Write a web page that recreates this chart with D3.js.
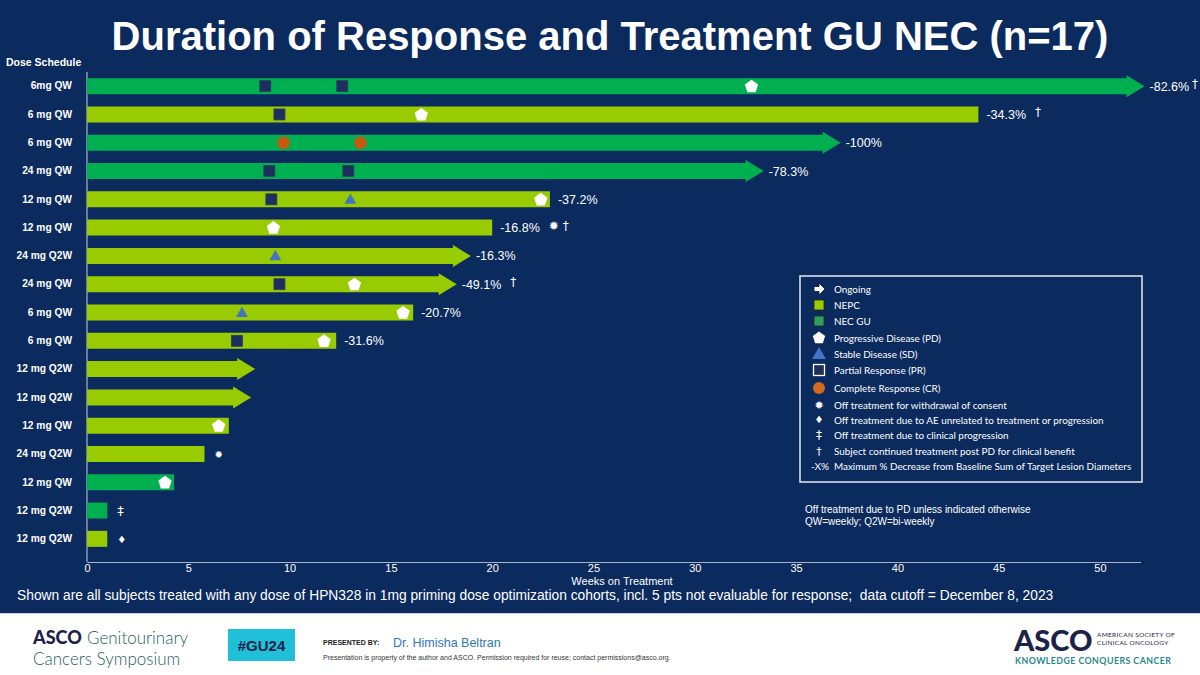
<!DOCTYPE html>
<html>
<head>
<meta charset="utf-8">
<script src="https://cdn.jsdelivr.net/npm/d3@7/dist/d3.min.js"></script>
<style>
html,body{margin:0;padding:0;background:#fff;}
svg{display:block;}
</style>
</head>
<body>
<svg id="chart" width="1200" height="675"></svg>
<script>
// ---------------- DATA ----------------
const doses = ["6mg QW","6 mg QW","6 mg QW","24 mg QW","12 mg QW","12 mg QW","24 mg Q2W","24 mg QW","6 mg QW","6 mg QW","12 mg Q2W","12 mg Q2W","12 mg QW","24 mg Q2W","12 mg QW","12 mg Q2W","12 mg Q2W"];
const tumorTypes = ["NEC GU","NEPC","NEC GU","NEC GU","NEPC","NEPC","NEPC","NEPC","NEPC","NEPC","NEPC","NEPC","NEPC","NEPC","NEC GU","NEC GU","NEPC"];
const weeksOnTreatment = [52.2,44.0,37.2,33.4,22.85,20.0,18.95,18.25,16.1,12.3,8.3,8.1,7.0,5.8,4.3,1.0,1.0];
const ongoing = [true,false,true,true,false,false,true,true,false,false,true,true,false,false,false,false,false];
const prWeeks = [[8.8,12.6],[9.5],[],[9.0,12.9],[9.1],[],[],[9.5],[],[7.4],[],[],[],[],[],[],[]];
const sdWeeks = [[],[],[],[],[13.0],[],[9.3],[],[7.65],[],[],[],[],[],[],[],[]];
const pdWeeks = [[32.8],[16.5],[],[],[22.4],[9.2],[],[13.2],[15.6],[11.7],[],[],[6.5],[],[3.85],[],[]];
const crWeeks = [[],[],[9.7,13.5],[],[],[],[],[],[],[],[],[],[],[],[],[],[]];
const maxDecrease = ["-82.6%","-34.3%","-100%","-78.3%","-37.2%","-16.8%","-16.3%","-49.1%","-20.7%","-31.6%","","","","","","",""];
const offSymbols = ["†","†","","","","✹ †","","†","","","","","","✹","","‡","♦"];
const xTicks = [0,5,10,15,20,25,30,35,40,45,50];
const legendItems = [
  {key:"arrow", text:"Ongoing"},
  {key:"nepc", text:"NEPC"},
  {key:"necgu", text:"NEC GU"},
  {key:"pd", text:"Progressive Disease (PD)"},
  {key:"sd", text:"Stable Disease (SD)"},
  {key:"pr", text:"Partial Response (PR)"},
  {key:"cr", text:"Complete Response (CR)"},
  {key:"star", text:"Off treatment for withdrawal of consent"},
  {key:"diamond", text:"Off treatment due to AE unrelated to treatment or progression"},
  {key:"ddagger", text:"Off treatment due to clinical progression"},
  {key:"dagger", text:"Subject continued treatment post PD for clinical benefit"},
  {key:"pct", text:"Maximum % Decrease from Baseline Sum of Target Lesion Diameters"}
];

// ---------------- STYLE ----------------
const NAVY = "#0b2a5e";
const C = {NEPC:"#99cc00", "NEC GU":"#00b050", pr:"#1d2f5c", sd:"#4472c4", cr:"#c55a11", pd:"#ffffff"};
const nf = "Liberation Sans, Arial, sans-serif";

const svg = d3.select("#chart");
svg.append("rect").attr("width",1200).attr("height",613).attr("fill",NAVY);
svg.append("rect").attr("y",613).attr("width",1200).attr("height",62).attr("fill","#ffffff");
svg.append("line").attr("x1",0).attr("x2",1200).attr("y1",613.5).attr("y2",613.5).attr("stroke","#c8ccd4");

// Title
svg.append("text").attr("x",610).attr("y",50).attr("text-anchor","middle")
  .attr("font-family",nf).attr("font-weight","bold")
  .attr("font-size",40).attr("fill","#fff")
  .text("Duration of Response and Treatment GU NEC (n=17)");

const x = d3.scaleLinear().domain([0,52]).range([87,1140.5]);
const y = d3.scaleBand().domain(d3.range(doses.length)).range([72,553]).paddingInner(0).paddingOuter(0);
const barH = 16, headH = 22, headL = 18;
const cy = i => y(i) + y.bandwidth()/2;

// axes
const xAxis = d3.axisBottom(x).tickValues(xTicks).tickSize(0).tickPadding(2);
const gx = svg.append("g").attr("transform","translate(0,562)").call(xAxis);
gx.select(".domain").attr("stroke","#a8b4cc").attr("stroke-width",1.2);
gx.selectAll("text").attr("fill","#fff").attr("font-size",11).attr("font-family",nf);
svg.append("line").attr("x1",87).attr("x2",87).attr("y1",72).attr("y2",562).attr("stroke","#a8b4cc").attr("stroke-width",1.2);

const yAxis = d3.axisLeft(y).tickFormat(i=>doses[i]).tickSize(0).tickPadding(15);
const gy = svg.append("g").attr("transform","translate(87,0)").call(yAxis);
gy.select(".domain").remove();
gy.selectAll("text").attr("fill","#fff").attr("font-size",10.2).attr("font-weight","bold").attr("font-family",nf);

svg.append("text").attr("x",6).attr("y",66).attr("fill","#fff").attr("font-size",10.5).attr("font-weight","bold")
  .attr("font-family",nf).text("Dose Schedule");
svg.append("text").attr("x",622).attr("y",585).attr("text-anchor","middle").attr("fill","#fff").attr("font-size",11)
  .attr("font-family",nf).text("Weeks on Treatment");

// bars
const idx = d3.range(doses.length);
function barPath(i){
  const x0 = x(0), x1 = x(weeksOnTreatment[i]), c = cy(i);
  if(!ongoing[i]){
    return `M${x0},${c-barH/2}H${x1}V${c+barH/2}H${x0}Z`;
  }
  const xs = x1 - headL;
  return `M${x0},${c-barH/2}H${xs}V${c-headH/2}L${x1},${c}L${xs},${c+headH/2}V${c+barH/2}H${x0}Z`;
}
svg.append("g").selectAll("path").data(idx).join("path")
  .attr("d",barPath).attr("fill",i=>C[tumorTypes[i]]);

// markers
const mk = svg.append("g");
function flat(arr){ const out=[]; arr.forEach((a,i)=>a.forEach(w=>out.push({i,w}))); return out; }
mk.selectAll(".pr").data(flat(prWeeks)).join("rect")
  .attr("x",d=>x(d.w)-5.5).attr("y",d=>cy(d.i)-5.5).attr("width",11).attr("height",11)
  .attr("fill",C.pr).attr("stroke","#2c3e66").attr("stroke-width",0.8);
mk.selectAll(".sd").data(flat(sdWeeks)).join("path")
  .attr("d",d3.symbol(d3.symbolTriangle,60)).attr("transform",d=>`translate(${x(d.w)},${cy(d.i)+1})`)
  .attr("fill",C.sd);
mk.selectAll(".cr").data(flat(crWeeks)).join("circle")
  .attr("cx",d=>x(d.w)).attr("cy",d=>cy(d.i)).attr("r",6.3).attr("fill",C.cr);
function pentagon(r){
  const pts = d3.range(5).map(k=>{const a = -Math.PI/2 + k*2*Math.PI/5; return [r*Math.cos(a), r*Math.sin(a)];});
  return "M"+pts.map(p=>p.join(",")).join("L")+"Z";
}
mk.selectAll(".pd").data(flat(pdWeeks)).join("path")
  .attr("d",pentagon(7)).attr("transform",d=>`translate(${x(d.w)},${cy(d.i)+0.5})`)
  .attr("fill",C.pd);

// labels
const lab = svg.append("g").attr("font-family",nf).attr("fill","#fff");
idx.forEach(i=>{
  const x0 = x(weeksOnTreatment[i]) + (ongoing[i]?5:8);
  if(maxDecrease[i]){
    const t = lab.append("text").attr("x",x0).attr("y",cy(i)+4.5).attr("font-size",12.5).text(maxDecrease[i]);
    if(offSymbols[i]){
      const end = x0 + t.node().getComputedTextLength();
      const s = lab.append("text").attr("y",cy(i)+2).attr("font-size",12).attr("font-family","DejaVu Sans, sans-serif").text(offSymbols[i]);
      const w = s.node().getComputedTextLength();
      const gap = Math.max(2, Math.min(9, 1198 - end - w));
      s.attr("x", end + gap);
    }
  } else if(offSymbols[i]){
    lab.append("text").attr("x",x0+2).attr("y",cy(i)+4).attr("font-size",offSymbols[i]==="‡"?13:10)
      .attr("font-family","DejaVu Sans, sans-serif").text(offSymbols[i]);
  }
});

// legend
const lg = svg.append("g").attr("transform","translate(800,276)");
lg.append("rect").attr("width",342).attr("height",206).attr("fill","none").attr("stroke","#e8ecf2").attr("stroke-width",1.5);
const ly = [13,29,45,62,78,94,112,129,144,159,175,190];
const lf = "Lato, 'Open Sans', sans-serif";
legendItems.forEach((d,k)=>{
  const g = lg.append("g").attr("transform",`translate(19,${ly[k]})`);
  switch(d.key){
    case "arrow": g.append("path").attr("d","M-5,-2.5H0V-6L6,0L0,6V2.5H-5Z").attr("fill","#fff").attr("stroke","#111").attr("stroke-width",0.8); break;
    case "nepc": g.append("rect").attr("x",-5).attr("y",-5).attr("width",10).attr("height",10).attr("fill",C.NEPC).attr("stroke","#222").attr("stroke-width",0.8); break;
    case "necgu": g.append("rect").attr("x",-5).attr("y",-5).attr("width",10).attr("height",10).attr("fill","#2f9e5e").attr("stroke","#222").attr("stroke-width",0.8); break;
    case "pd": g.append("path").attr("d",pentagon(6.5)).attr("fill","#fff"); break;
    case "sd": g.append("path").attr("d",d3.symbol(d3.symbolTriangle,85)).attr("transform","translate(0,1)").attr("fill",C.sd); break;
    case "pr": g.append("rect").attr("x",-5.5).attr("y",-5.5).attr("width",11).attr("height",11).attr("fill",C.pr).attr("stroke","#fff").attr("stroke-width",1.3); break;
    case "cr": g.append("circle").attr("r",6).attr("fill","#d2691e"); break;
    case "star": g.append("text").attr("text-anchor","middle").attr("y",4).attr("font-size",11).attr("fill","#fff").attr("font-family","DejaVu Sans").text("✹"); break;
    case "diamond": g.append("text").attr("text-anchor","middle").attr("y",3).attr("font-size",10).attr("fill","#fff").attr("font-family","DejaVu Sans").text("♦"); break;
    case "ddagger": g.append("text").attr("text-anchor","middle").attr("y",4).attr("font-size",12).attr("fill","#fff").attr("font-family","DejaVu Sans").text("‡"); break;
    case "dagger": g.append("text").attr("text-anchor","middle").attr("y",4).attr("font-size",11).attr("fill","#fff").attr("font-family","DejaVu Sans").text("†"); break;
    case "pct": g.append("text").attr("x",-8).attr("y",4).attr("font-size",10).attr("fill","#fff").attr("font-family",lf).text("-X%"); break;
  }
  lg.append("text").attr("x",34).attr("y",ly[k]+3.5).attr("font-size",9.9).attr("fill","#fff").attr("font-family",lf).text(d.text);
});

svg.append("text").attr("x",805).attr("y",513).attr("fill","#fff").attr("font-size",10).attr("font-family",nf).text("Off treatment due to PD unless indicated otherwise");
svg.append("text").attr("x",805).attr("y",525).attr("fill","#fff").attr("font-size",10).attr("font-family",nf).text("QW=weekly; Q2W=bi-weekly");

svg.append("text").attr("x",17).attr("y",600).attr("fill","#fff").attr("font-size",13.8).attr("font-family",nf)
  .attr("xml:space","preserve").style("white-space","pre")
  .text("Shown are all subjects treated with any dose of HPN328 in 1mg priming dose optimization cohorts, incl. 5 pts not evaluable for response;  data cutoff = December 8, 2023");

// footer
const ft = svg.append("g");
ft.append("text").attr("x",33).attr("y",644).attr("font-size",18).attr("font-weight","900").attr("font-family","Lato, sans-serif").attr("fill","#1b2346").text("ASCO");
ft.append("text").attr("x",87).attr("y",644).attr("font-size",17).attr("font-weight","300").attr("font-family","Lato, sans-serif").attr("fill","#245f5c").text("Genitourinary");
ft.append("text").attr("x",33).attr("y",665).attr("font-size",17).attr("font-weight","300").attr("font-family","Lato, sans-serif").attr("fill","#245f5c").text("Cancers Symposium");
ft.append("rect").attr("x",228).attr("y",629).attr("width",67).attr("height",32).attr("fill","#1fc0d8");
ft.append("text").attr("x",261.5).attr("y",651).attr("text-anchor","middle").attr("font-size",15).attr("font-weight","bold").attr("font-family",nf).attr("fill","#1b2346").text("#GU24");
ft.append("text").attr("x",323).attr("y",645).attr("font-size",7).attr("font-weight","bold").attr("font-family",nf).attr("fill","#222").text("PRESENTED BY:");
ft.append("text").attr("x",393).attr("y",647).attr("font-size",12.5).attr("font-family",nf).attr("fill","#2f78b8").text("Dr. Himisha Beltran");
ft.append("text").attr("x",323).attr("y",660).attr("font-size",7).attr("font-family",nf).attr("fill","#333").text("Presentation is property of the author and ASCO. Permission required for reuse; contact permissions@asco.org.");
ft.append("text").attr("x",1014).attr("y",651).attr("font-size",29).attr("font-weight","900").attr("font-family","Lato, sans-serif").attr("fill","#1b2346").text("ASCO");
ft.append("text").attr("x",1097).attr("y",637).attr("font-size",6.5).attr("font-family","Lato, sans-serif").attr("fill","#1b2346").attr("letter-spacing",0.3).text("AMERICAN SOCIETY OF");
ft.append("text").attr("x",1097).attr("y",645).attr("font-size",6.5).attr("font-family","Lato, sans-serif").attr("fill","#1b2346").attr("letter-spacing",0.3).text("CLINICAL ONCOLOGY");
ft.append("text").attr("x",1015).attr("y",664).attr("font-size",8.8).attr("font-weight","bold").attr("font-family","Lato, sans-serif").attr("fill","#2a8a8a").attr("letter-spacing",0.45).text("KNOWLEDGE CONQUERS CANCER");
</script>
</body>
</html>
